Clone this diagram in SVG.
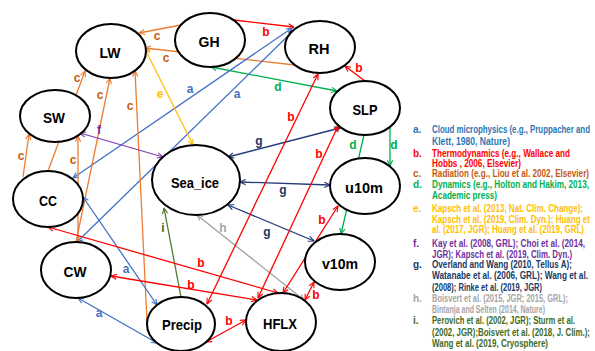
<svg xmlns="http://www.w3.org/2000/svg" width="595" height="351" viewBox="0 0 595 351">
<style>
.node ellipse{fill:#fff;stroke:#000;stroke-width:2}
.node text{font-family:"Liberation Sans",Arial,sans-serif;font-weight:bold;font-size:15.5px;fill:#000;text-anchor:middle;dominant-baseline:central}
#connectors line{stroke-width:1.3;fill:none}
.lbl{font-family:"Liberation Sans",Arial,sans-serif;font-weight:bold;font-size:12px;text-anchor:middle;dominant-baseline:central}
.leg{font-family:"Liberation Sans",Arial,sans-serif;font-weight:bold;font-size:10px;dominant-baseline:central}
.o{stroke:#ED7D31}.bl{stroke:#4472C4}.r{stroke:#FF0000}.gr{stroke:#00B050}.y{stroke:#FFC000}.p{stroke:#8040B0}.n{stroke:#24387A}.gy{stroke:#A0A0A0}.dg{stroke:#4E7A2E}
.to{fill:#C55A11}.tbl{fill:#4472C4}.tr{fill:#FF0000}.tgr{fill:#00B050}.ty{fill:#FFC000}.tp{fill:#7030A0}.tn{fill:#203864}.tgy{fill:#A6A6A6}.tdg{fill:#3E6B1F}.ta{fill:#2E75B6}
</style>
<defs>
<marker id="mo" viewBox="0 0 8 8" refX="7.5" refY="4" markerWidth="7" markerHeight="7" markerUnits="userSpaceOnUse" orient="auto-start-reverse"><path d="M1,1 L7.5,4 L1,7" fill="none" stroke="#ED7D31" stroke-width="1.3"/></marker>
<marker id="mbl" viewBox="0 0 8 8" refX="7.5" refY="4" markerWidth="7" markerHeight="7" markerUnits="userSpaceOnUse" orient="auto-start-reverse"><path d="M1,1 L7.5,4 L1,7" fill="none" stroke="#4472C4" stroke-width="1.3"/></marker>
<marker id="mr" viewBox="0 0 8 8" refX="7.5" refY="4" markerWidth="7" markerHeight="7" markerUnits="userSpaceOnUse" orient="auto-start-reverse"><path d="M1,1 L7.5,4 L1,7" fill="none" stroke="#FF0000" stroke-width="1.3"/></marker>
<marker id="mgr" viewBox="0 0 8 8" refX="7.5" refY="4" markerWidth="7" markerHeight="7" markerUnits="userSpaceOnUse" orient="auto-start-reverse"><path d="M1,1 L7.5,4 L1,7" fill="none" stroke="#00B050" stroke-width="1.3"/></marker>
<marker id="my" viewBox="0 0 8 8" refX="7.5" refY="4" markerWidth="7" markerHeight="7" markerUnits="userSpaceOnUse" orient="auto-start-reverse"><path d="M1,1 L7.5,4 L1,7" fill="none" stroke="#FFC000" stroke-width="1.3"/></marker>
<marker id="mp" viewBox="0 0 8 8" refX="7.5" refY="4" markerWidth="7" markerHeight="7" markerUnits="userSpaceOnUse" orient="auto-start-reverse"><path d="M1,1 L7.5,4 L1,7" fill="none" stroke="#8040B0" stroke-width="1.3"/></marker>
<marker id="mn" viewBox="0 0 8 8" refX="7.5" refY="4" markerWidth="7" markerHeight="7" markerUnits="userSpaceOnUse" orient="auto-start-reverse"><path d="M1,1 L7.5,4 L1,7" fill="none" stroke="#24387A" stroke-width="1.3"/></marker>
<marker id="mgy" viewBox="0 0 8 8" refX="7.5" refY="4" markerWidth="7" markerHeight="7" markerUnits="userSpaceOnUse" orient="auto-start-reverse"><path d="M1,1 L7.5,4 L1,7" fill="none" stroke="#A0A0A0" stroke-width="1.3"/></marker>
<marker id="mdg" viewBox="0 0 8 8" refX="7.5" refY="4" markerWidth="7" markerHeight="7" markerUnits="userSpaceOnUse" orient="auto-start-reverse"><path d="M1,1 L7.5,4 L1,7" fill="none" stroke="#4E7A2E" stroke-width="1.3"/></marker>
</defs>
<rect width="595" height="351" fill="#fff"/>
<g id="connectors">
<line class="o" x1="181" y1="25" x2="139" y2="33" marker-end="url(#mo)"/>
<line class="o" x1="295" y1="65" x2="145" y2="48" marker-end="url(#mo)"/>
<line class="r" x1="234" y1="20" x2="294" y2="27" marker-end="url(#mr)"/>
<line class="gr" x1="211" y1="67" x2="337" y2="91" marker-start="url(#mgr)" marker-end="url(#mgr)"/>
<line class="r" x1="365" y1="81" x2="345" y2="66" marker-end="url(#mr)"/>
<line class="bl" x1="292" y1="28" x2="73" y2="178" marker-start="url(#mbl)" marker-end="url(#mbl)"/>
<line class="bl" x1="294" y1="30" x2="77" y2="242" marker-start="url(#mbl)" marker-end="url(#mbl)"/>
<line class="y" x1="145" y1="49" x2="193" y2="145" marker-start="url(#my)" marker-end="url(#my)"/>
<line class="o" x1="23" y1="177" x2="29" y2="134" marker-end="url(#mo)"/>
<line class="o" x1="48" y1="171" x2="85" y2="71" marker-end="url(#mo)"/>
<line class="o" x1="78" y1="242" x2="78" y2="136" marker-end="url(#mo)"/>
<line class="o" x1="76" y1="242" x2="110" y2="78" marker-end="url(#mo)"/>
<line class="o" x1="147" y1="322" x2="135" y2="71" marker-end="url(#mo)"/>
<line class="p" x1="80" y1="133" x2="163" y2="157" marker-start="url(#mp)" marker-end="url(#mp)"/>
<line class="bl" x1="83" y1="197" x2="157" y2="305" marker-start="url(#mbl)" marker-end="url(#mbl)"/>
<line class="bl" x1="78" y1="298" x2="157" y2="343" marker-start="url(#mbl)" marker-end="url(#mbl)"/>
<line class="n" x1="340" y1="128" x2="228" y2="157" marker-start="url(#mn)" marker-end="url(#mn)"/>
<line class="n" x1="240" y1="182" x2="330" y2="185" marker-start="url(#mn)" marker-end="url(#mn)"/>
<line class="n" x1="228" y1="205" x2="314" y2="241" marker-start="url(#mn)" marker-end="url(#mn)"/>
<line class="gy" x1="304" y1="300" x2="197" y2="215" marker-start="url(#mgy)" marker-end="url(#mgy)"/>
<line class="dg" x1="181" y1="297" x2="164" y2="208" marker-end="url(#mdg)"/>
<line class="r" x1="48" y1="227" x2="278" y2="293" marker-start="url(#mr)" marker-end="url(#mr)"/>
<line class="r" x1="111" y1="276" x2="257" y2="300" marker-start="url(#mr)" marker-end="url(#mr)"/>
<line class="r" x1="206" y1="342" x2="246" y2="320" marker-start="url(#mr)" marker-end="url(#mr)"/>
<line class="r" x1="305" y1="300" x2="314" y2="282" marker-start="url(#mr)" marker-end="url(#mr)"/>
<line class="r" x1="283" y1="293" x2="338" y2="206" marker-start="url(#mr)" marker-end="url(#mr)"/>
<line class="r" x1="258" y1="298" x2="338" y2="126" marker-start="url(#mr)" marker-end="url(#mr)"/>
<line class="r" x1="207" y1="304" x2="318" y2="74" marker-start="url(#mr)" marker-end="url(#mr)"/>
<line class="gr" x1="390" y1="128" x2="390" y2="166" marker-end="url(#mgr)"/>
<line class="gr" x1="364" y1="135" x2="341" y2="234" marker-end="url(#mgr)"/>
<text class="lbl to" x="157" y="36">c</text>
<text class="lbl to" x="166" y="58">c</text>
<text class="lbl tr" x="266" y="32">b</text>
<text class="lbl tgr" x="278" y="87">d</text>
<text class="lbl tr" x="359" y="68">b</text>
<text class="lbl tbl" x="190" y="89">a</text>
<text class="lbl tbl" x="237" y="94">a</text>
<text class="lbl ty" x="160" y="94">e</text>
<text class="lbl to" x="77" y="78">c</text>
<text class="lbl to" x="100" y="95">c</text>
<text class="lbl to" x="130" y="106">c</text>
<text class="lbl to" x="21" y="156">c</text>
<text class="lbl to" x="73" y="160">c</text>
<text class="lbl tp" x="99" y="130">f</text>
<text class="lbl tn" x="259" y="141">g</text>
<text class="lbl tn" x="283" y="190">g</text>
<text class="lbl tn" x="267" y="232">g</text>
<text class="lbl tgy" x="223" y="228">h</text>
<text class="lbl tdg" x="163" y="228">i</text>
<text class="lbl tr" x="291" y="117">b</text>
<text class="lbl tr" x="319" y="154">b</text>
<text class="lbl tr" x="322" y="220">b</text>
<text class="lbl tr" x="201" y="263">b</text>
<text class="lbl tr" x="191" y="285">b</text>
<text class="lbl tr" x="229" y="321">b</text>
<text class="lbl tr" x="316" y="295">b</text>
<text class="lbl tgr" x="394" y="145">d</text>
<text class="lbl tgr" x="353" y="145">d</text>
<text class="lbl tbl" x="126" y="269">a</text>
<text class="lbl tbl" x="99" y="313">a</text>
</g>
<g id="LW" class="node"><ellipse cx="111" cy="51" rx="35" ry="27"/><text x="110" y="52" textLength="21" lengthAdjust="spacingAndGlyphs">LW</text></g>
<g id="GH" class="node"><ellipse cx="210" cy="40" rx="35" ry="27"/><text x="209" y="41" textLength="21" lengthAdjust="spacingAndGlyphs">GH</text></g>
<g id="RH" class="node"><ellipse cx="320" cy="47" rx="35" ry="26"/><text x="319" y="48" textLength="21" lengthAdjust="spacingAndGlyphs">RH</text></g>
<g id="SLP" class="node"><ellipse cx="365" cy="108" rx="35" ry="27"/><text x="365" y="109" textLength="25" lengthAdjust="spacingAndGlyphs">SLP</text></g>
<g id="u10m" class="node"><ellipse cx="365" cy="186" rx="35" ry="28"/><text x="364" y="187" textLength="38" lengthAdjust="spacingAndGlyphs">u10m</text></g>
<g id="v10m" class="node"><ellipse cx="340" cy="262" rx="35" ry="28"/><text x="340" y="263" textLength="36" lengthAdjust="spacingAndGlyphs">v10m</text></g>
<g id="HFLX" class="node"><ellipse cx="281" cy="322" rx="35" ry="29"/><text x="280" y="323" textLength="34" lengthAdjust="spacingAndGlyphs">HFLX</text></g>
<g id="Precip" class="node"><ellipse cx="181" cy="324" rx="34" ry="27"/><text x="182" y="324" textLength="40" lengthAdjust="spacingAndGlyphs">Precip</text></g>
<g id="CW" class="node"><ellipse cx="76" cy="270" rx="35" ry="28"/><text x="75" y="271" textLength="23" lengthAdjust="spacingAndGlyphs">CW</text></g>
<g id="CC" class="node"><ellipse cx="48" cy="199" rx="35" ry="28"/><text x="48" y="200" textLength="18" lengthAdjust="spacingAndGlyphs">CC</text></g>
<g id="SW" class="node"><ellipse cx="55" cy="116" rx="35" ry="26"/><text x="54" y="117" textLength="22" lengthAdjust="spacingAndGlyphs">SW</text></g>
<g id="Sea_ice" class="node"><ellipse cx="196" cy="180" rx="44" ry="35"/><text x="195" y="182" textLength="48" lengthAdjust="spacingAndGlyphs">Sea_ice</text></g>
<g id="legend">
<text class="leg ta" x="413" y="129">a.</text>
<text class="leg ta" x="432" y="129" textLength="158" lengthAdjust="spacingAndGlyphs">Cloud microphysics (e.g., Pruppacher and</text>
<text class="leg ta" x="432" y="141" textLength="78" lengthAdjust="spacingAndGlyphs">Klett, 1980, Nature)</text>
<text class="leg tr" x="413" y="153">b.</text>
<text class="leg tr" x="432" y="153" textLength="138" lengthAdjust="spacingAndGlyphs">Thermodynamics (e.g., Wallace and</text>
<text class="leg tr" x="432" y="163" textLength="89" lengthAdjust="spacingAndGlyphs">Hobbs , 2006, Elsevier)</text>
<text class="leg to" x="413" y="173">c.</text>
<text class="leg to" x="432" y="173" textLength="157" lengthAdjust="spacingAndGlyphs">Radiation (e.g., Liou et al. 2002, Elsevier)</text>
<text class="leg tgr" x="413" y="184">d.</text>
<text class="leg tgr" x="432" y="184" textLength="157" lengthAdjust="spacingAndGlyphs">Dynamics (e.g., Holton and Hakim, 2013,</text>
<text class="leg tgr" x="432" y="195" textLength="65" lengthAdjust="spacingAndGlyphs">Academic press)</text>
<text class="leg ty" x="413" y="208">e.</text>
<text class="leg ty" x="432" y="208" textLength="151" lengthAdjust="spacingAndGlyphs">Kapsch et al. (2013, Nat. Clim. Change);</text>
<text class="leg ty" x="432" y="219" textLength="158" lengthAdjust="spacingAndGlyphs">Kapsch et al. (2019, Clim. Dyn.); Huang et</text>
<text class="leg ty" x="432" y="229" textLength="152" lengthAdjust="spacingAndGlyphs">al. (2017, JGR); Huang et al. (2019, GRL)</text>
<text class="leg tp" x="413" y="243">f.</text>
<text class="leg tp" x="432" y="243" textLength="153" lengthAdjust="spacingAndGlyphs">Kay et al. (2008, GRL); Choi et al. (2014,</text>
<text class="leg tp" x="432" y="254" textLength="140" lengthAdjust="spacingAndGlyphs">JGR); Kapsch et al. (2019, Clim. Dyn.)</text>
<text class="leg tn" x="413" y="264">g.</text>
<text class="leg tn" x="432" y="264" textLength="140" lengthAdjust="spacingAndGlyphs">Overland and Wang (2010, Tellus A);</text>
<text class="leg tn" x="432" y="275" textLength="156" lengthAdjust="spacingAndGlyphs">Watanabe et al. (2006, GRL); Wang et al.</text>
<text class="leg tn" x="432" y="287" textLength="110" lengthAdjust="spacingAndGlyphs">(2008); Rinke et al. (2019, JGR)</text>
<text class="leg tgy" x="413" y="298">h.</text>
<text class="leg tgy" x="432" y="298" textLength="136" lengthAdjust="spacingAndGlyphs">Boisvert et al. (2015, JGR; 2015, GRL);</text>
<text class="leg tgy" x="432" y="309" textLength="113" lengthAdjust="spacingAndGlyphs">Bintanja and Selten (2014, Nature)</text>
<text class="leg tdg" x="413" y="320">i.</text>
<text class="leg tdg" x="432" y="320" textLength="143" lengthAdjust="spacingAndGlyphs">Perovich et al. (2002, JGR); Sturm et al.</text>
<text class="leg tdg" x="432" y="332" textLength="158" lengthAdjust="spacingAndGlyphs">(2002, JGR);Boisvert et al. (2018, J. Clim.);</text>
<text class="leg tdg" x="432" y="343" textLength="116" lengthAdjust="spacingAndGlyphs">Wang et al. (2019, Cryosphere)</text>
</g>
</svg>
